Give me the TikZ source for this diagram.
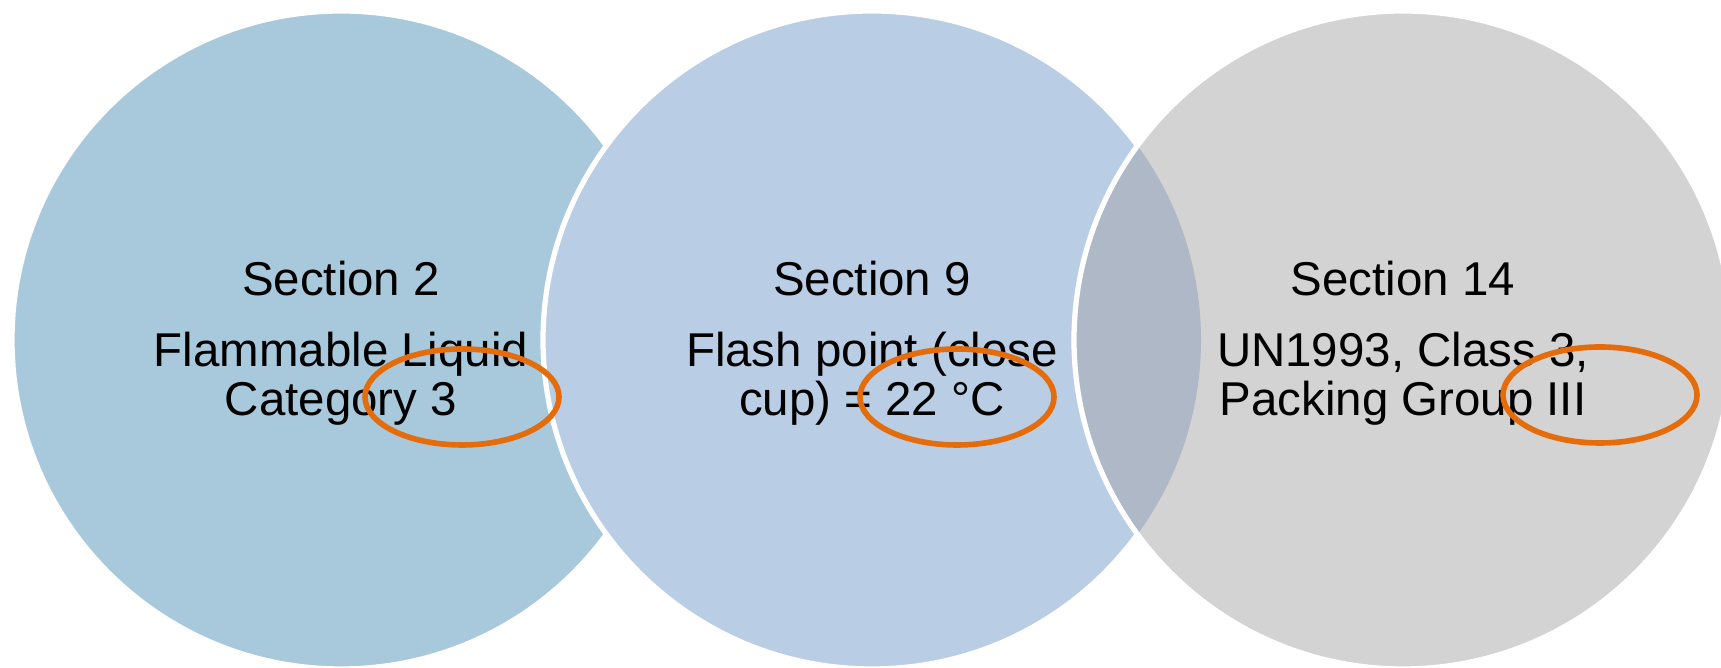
\documentclass[tikz,border=0pt]{standalone}
\usepackage{fontspec}
\setmainfont{Liberation Sans}
\definecolor{secA}{HTML}{A8C9DC}
\definecolor{secB}{HTML}{B9CDE5}
\definecolor{secC}{HTML}{D3D3D3}
\definecolor{secBC}{HTML}{AEB8C6}
\definecolor{markorange}{HTML}{E46C0A}

\begin{document}
\begin{tikzpicture}[
  disc/.style={draw=white,line width=1.5pt},
  mark ring/.style={draw=markorange,line width=1.6pt},
  head/.style={anchor=base,inner sep=0pt,font=\fontsize{13.5}{14.2}\selectfont},
  body/.style={anchor=base,inner sep=0pt,align=center,font=\fontsize{13.5}{14.2}\selectfont}]
\clip (0,0) rectangle (17.21,6.68);
\fill[white] (0,0) rectangle (17.21,6.68);
\fill[secA,disc] (3.41,3.28) circle (3.29);
\fill[secB,disc] (8.72,3.28) circle (3.29);
\fill[secC] (14.03,3.28) circle (3.29);
\begin{scope}
\clip (8.72,3.28) circle (3.29);
\fill[secBC] (14.03,3.28) circle (3.29);
\end{scope}
\draw[disc] (14.03,3.28) circle (3.29);
\node[head] (sec2) at (3.41,3.72) {Section 2};
\node[body] (sec2txt) at (3.41,2.52) {Flammable Liquid\\Category 3};
\node[head] (sec9) at (8.72,3.72) {Section 9};
\node[body] (sec9txt) at (8.72,2.52) {Flash point (close\\cup) = 22 °C};
\node[head] (sec14) at (14.03,3.72) {Section 14};
\node[body] (sec14txt) at (14.03,2.52) {UN1993, Class 3,\\Packing Group III};
\draw[mark ring] (4.62,2.71) ellipse (0.97 and 0.48);
\draw[mark ring] (9.57,2.71) ellipse (0.97 and 0.48);
\draw[mark ring] (16.00,2.73) ellipse (0.97 and 0.48);
\end{tikzpicture}
\end{document}
